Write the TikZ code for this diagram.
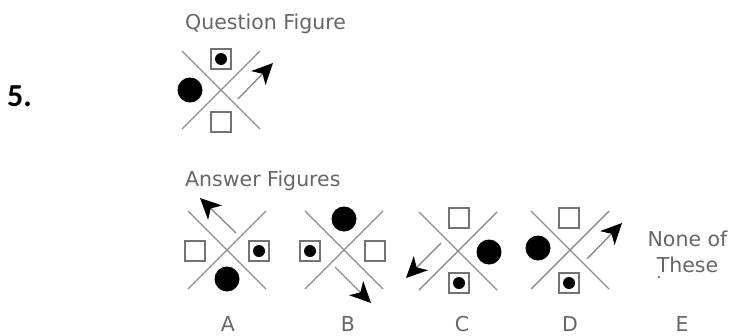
\documentclass[tikz,border=0pt]{standalone}
\usepackage{fontspec}
\newfontfamily\figfont{DejaVu Sans}
\newfontfamily\numfont{Carlito}
\usetikzlibrary{arrows.meta}

\begin{document}
\begin{tikzpicture}[x=1pt, y=-1pt,
    capt/.style={font=\figfont\fontsize{20.5}{26}\selectfont, text=black!60, inner sep=0pt},
    xline/.style={draw=black!45, line width=1.4pt},
    sqbox/.style={draw=black!55, line width=2pt, minimum size=20pt, inner sep=0pt},
    blob/.style={circle, fill=black, minimum size=25pt, inner sep=0pt},
    dotbox/.style={sqbox, path picture={\fill[black] (path picture bounding box.center) circle (6pt);}},
    ptr/.style={draw=black!45, line width=1.4pt, -{Stealth[length=21pt, width=20pt, inset=6pt, color=black]}},
    cross/.pic={\draw[xline] (-39,-39) -- (39,39); \draw[xline] (39,-39) -- (-39,39);}
  ]
  \useasboundingbox (0,0) rectangle (736,335);

  \node[font=\numfont\bfseries\fontsize{32}{36}\selectfont, inner sep=0pt, anchor=base west] (num) at (7,106) {5.};

  % question figure
  \node[capt, anchor=base west] (qcapt) at (185,29) {Question Figure};
  \pic at (221,90) {cross};
  \node[dotbox] (qtop) at (221,59) {};
  \node[blob] (qleft) at (190,90) {};
  \node[sqbox] (qbot) at (221,122) {};
  \coordinate (qtail) at (238,99);
  \coordinate (qhead) at (273,63);
  \draw[ptr] (qtail) -- (qhead);

  % answer figures
  \node[capt, anchor=base west] (acapt) at (185,186) {Answer Figures};

  \pic at (227,250) {cross};
  \node[sqbox] (aleft) at (195,251) {};
  \node[dotbox] (aright) at (259,251) {};
  \node[blob] (abot) at (227,279) {};
  \coordinate (atail) at (236,233);
  \coordinate (ahead) at (200,198);
  \draw[ptr] (atail) -- (ahead);

  \pic at (344,250) {cross};
  \node[dotbox] (bleft) at (310,251) {};
  \node[sqbox] (bright) at (375,251) {};
  \node[blob] (btop) at (344,219) {};
  \coordinate (btail) at (335,267);
  \coordinate (bhead) at (371,303);
  \draw[ptr] (btail) -- (bhead);

  \pic at (458,251) {cross};
  \node[sqbox] (ctop) at (459,218) {};
  \node[dotbox] (cbot) at (459,283) {};
  \node[blob] (cright) at (489,252) {};
  \coordinate (ctail) at (441,243);
  \coordinate (chead) at (406,278);
  \draw[ptr] (ctail) -- (chead);

  \pic at (570,250) {cross};
  \node[sqbox] (dtop) at (569,218) {};
  \node[dotbox] (dbot) at (569,283) {};
  \node[blob] (dleft) at (538,248) {};
  \coordinate (dtail) at (587,259);
  \coordinate (dhead) at (622,223);
  \draw[ptr] (dtail) -- (dhead);

  \node[capt, align=center] (none) at (687.5,252) {None of\\These};
  \fill[black] (659,277) circle (0.8pt);

  % option letters
  \node[capt, anchor=base] (la) at (228,331) {A};
  \node[capt, anchor=base] (lb) at (348,331) {B};
  \node[capt, anchor=base] (lc) at (462,331) {C};
  \node[capt, anchor=base] (ld) at (570,331) {D};
  \node[capt, anchor=base] (le) at (682,331) {E};
\end{tikzpicture}
\end{document}
